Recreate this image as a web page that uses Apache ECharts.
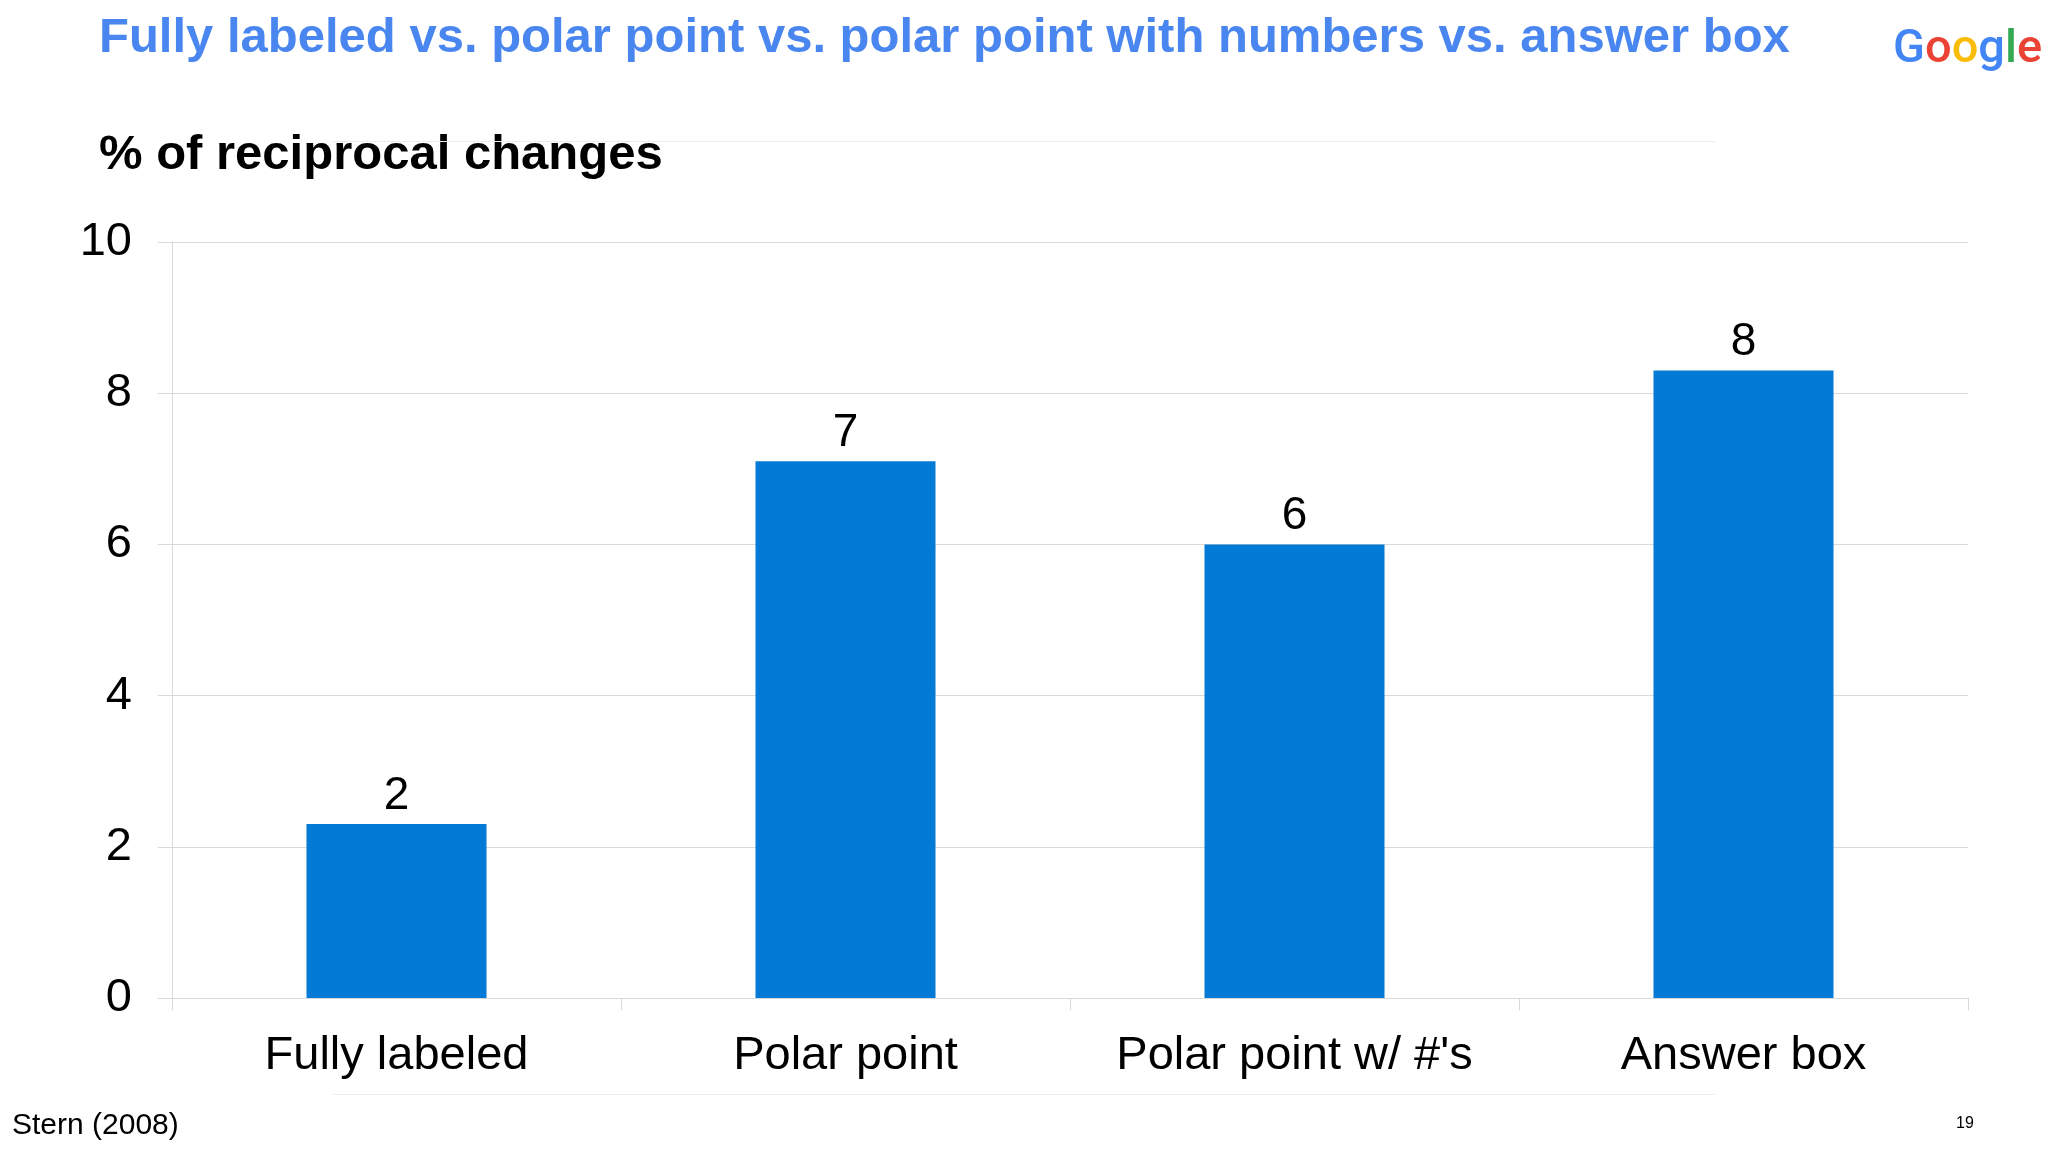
<!DOCTYPE html>
<html>
<head>
<meta charset="utf-8">
<script src="https://cdn.jsdelivr.net/npm/echarts@6/dist/echarts.min.js"></script>
<style>
html,body{margin:0;padding:0;background:#fff;}
#chart{width:2048px;height:1152px;}
</style>
</head>
<body>
<div id="chart"></div>
<script>
const titleText = "Fully labeled vs. polar point vs. polar point with numbers vs. answer box";
const subtitleText = "% of reciprocal changes";
const categories = ["Fully labeled", "Polar point", "Polar point w/ #'s", "Answer box"];
const values = [2.3, 7.1, 6.0, 8.3];
const yMin = 0, yMax = 10, yStep = 2;
const sourceText = "Stern (2008)";
const pageNumber = "19";
const logoLetters = ["G", "o", "o", "g", "l", "e"];

const FONT = "'Liberation Sans', Arial, sans-serif";
const GRID = "#d9d9d9";
const logoColors = ["#4285F4", "#EA4335", "#FBBC05", "#4285F4", "#34A853", "#EA4335"];
const logoKeys = ["b1", "r1", "y1", "b2", "g1", "r2"];
const logoRich = {};
logoKeys.forEach((k, i) => {
  logoRich[k] = { color: logoColors[i], fontSize: 47, fontFamily: "Roboto, 'Open Sans', sans-serif", fontWeight: 500 };
});
const logoText = logoLetters.map((c, i) => "{" + logoKeys[i] + "|" + c + "}").join("");

const chart = echarts.init(document.getElementById("chart"), null, { renderer: "canvas" });
chart.setOption({
  animation: false,
  backgroundColor: "#ffffff",
  title: {
    text: logoText, left: 1893, top: 27, padding: 0,
    textStyle: { rich: logoRich, fontSize: 47 }
  },
  grid: { left: 172, right: 80, top: 242, bottom: 154, containLabel: false },
  graphic: [
    { type: "text", left: 99, top: 14, style: { text: titleText, fill: "#4a86ef", font: "bold 49px " + FONT } },
    { type: "text", left: 99, top: 131, style: { text: subtitleText, fill: "#000", font: "bold 49px " + FONT } },
    { type: "text", left: 12, top: 1111, style: { text: sourceText, fill: "#000", font: "30px " + FONT } },
    { type: "text", left: 1956, top: 1116, style: { text: pageNumber, fill: "#000", font: "16px " + FONT } },
    { type: "line", shape: { x1: 333, y1: 141.5, x2: 1715, y2: 141.5 }, style: { stroke: "#ececec", lineWidth: 1 } },
    { type: "line", shape: { x1: 333, y1: 1094.5, x2: 1715, y2: 1094.5 }, style: { stroke: "#ececec", lineWidth: 1 } }
  ],
  xAxis: {
    type: "category",
    data: categories,
    axisLine: { show: true, lineStyle: { color: GRID, width: 1 } },
    axisTick: { show: true, length: 12, lineStyle: { color: GRID } },
    axisLabel: { color: "#000", fontSize: 47, fontFamily: FONT, margin: 35, interval: 0 },
    splitLine: { show: false }
  },
  yAxis: {
    type: "value",
    min: yMin, max: yMax, interval: yStep,
    axisLine: { show: true, lineStyle: { color: GRID, width: 1 } },
    axisTick: { show: true, length: 14, lineStyle: { color: GRID } },
    axisLabel: { color: "#000", fontSize: 47, fontFamily: FONT, margin: 40 },
    splitLine: { show: true, lineStyle: { color: GRID, width: 1 } }
  },
  series: [{
    type: "bar",
    data: values,
    barWidth: 180,
    itemStyle: { color: "#037bd6" },
    label: {
      show: true, position: "top", distance: 5,
      color: "#000", fontSize: 46, fontFamily: FONT,
      formatter: p => String(Math.round(p.value))
    }
  }]
});
</script>
</body>
</html>
